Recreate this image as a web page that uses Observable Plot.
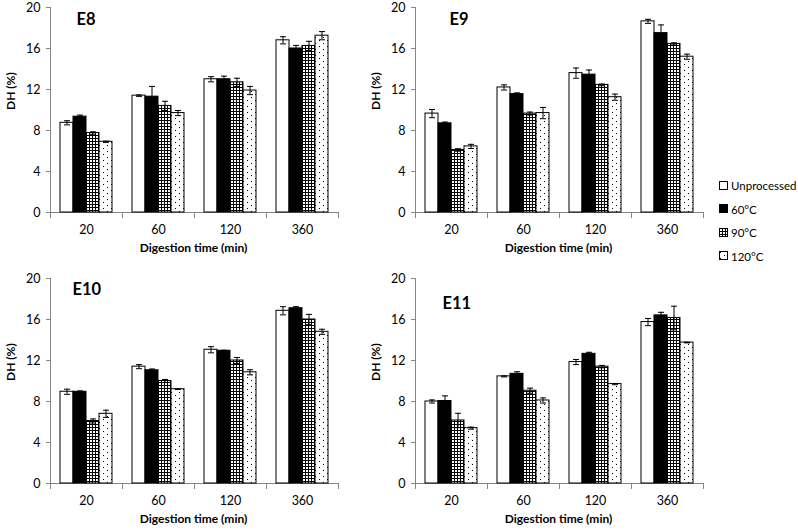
<!DOCTYPE html>
<html><head><meta charset="utf-8">
<script src="https://cdn.jsdelivr.net/npm/d3@7"></script>
<script src="https://cdn.jsdelivr.net/npm/@observablehq/plot@0.6"></script>
<style>
html,body{margin:0;padding:0;background:#fff;}
#wrap{position:relative;width:798px;height:530px;overflow:hidden;font-family:Lato,"Open Sans",sans-serif;color:#000;}
.panel{position:absolute;}
.xtitle{position:absolute;font-weight:bold;font-size:12px;line-height:14px;text-align:center;white-space:nowrap;}
.legend{position:absolute;left:719px;top:174px;font-size:11.5px;}
.legend .item{display:flex;align-items:center;height:23.5px;white-space:nowrap;}
.legend svg{margin-right:2px;}
</style></head><body>
<div id="wrap">
<svg width="0" height="0" style="position:absolute">
<defs>
<pattern id="pGrid" width="3" height="3" patternUnits="userSpaceOnUse">
<rect width="3" height="3" fill="#fff"/>
<path d="M0,0.5H3M0.5,0V3" stroke="#000" stroke-width="1" shape-rendering="crispEdges"/>
</pattern>
<pattern id="pDot" width="8" height="6" patternUnits="userSpaceOnUse">
<rect width="8" height="6" fill="#fff"/>
<rect x="1" y="1" width="1" height="1" fill="#000"/>
<rect x="5" y="4" width="1" height="1" fill="#000"/>
</pattern>
</defs></svg>
</div>
<script>
// ---- data ----
const times = ["20", "60", "120", "360"];
const series = ["Unprocessed", "60°C", "90°C", "120°C"];
const yTicks = [0, 4, 8, 12, 16, 20];
const panelNames = ["E8", "E9", "E10", "E11"];
const xTitle = "Digestion time (min)";
const yTitle = "DH (%)";
// rows = digestion time, columns = series
const e8Mean = [[8.75, 9.35, 7.75, 6.9], [11.4, 11.3, 10.4, 9.7], [13.0, 13.0, 12.7, 11.9], [16.8, 16.0, 16.25, 17.25]];
const e8Err  = [[0.2, 0.15, 0.12, 0.06], [0.07, 1.0, 0.45, 0.25], [0.25, 0.3, 0.4, 0.4], [0.35, 0.3, 0.45, 0.4]];
const e9Mean = [[9.65, 8.7, 6.1, 6.45], [12.2, 11.55, 9.65, 9.7], [13.6, 13.45, 12.45, 11.25], [18.65, 17.5, 16.45, 15.2]];
const e9Err  = [[0.4, 0.12, 0.12, 0.2], [0.25, 0.12, 0.15, 0.55], [0.5, 0.45, 0.08, 0.3], [0.2, 0.8, 0.1, 0.25]];
const e10Mean = [[8.95, 8.95, 6.1, 6.8], [11.4, 11.05, 10.0, 9.2], [13.05, 12.95, 12.0, 10.85], [16.85, 17.1, 16.0, 14.8]];
const e10Err  = [[0.25, 0.08, 0.2, 0.35], [0.2, 0.12, 0.15, 0.03], [0.3, 0.05, 0.3, 0.25], [0.4, 0.15, 0.5, 0.25]];
const e11Mean = [[8.0, 8.05, 6.15, 5.4], [10.45, 10.7, 9.05, 8.1], [11.85, 12.65, 11.4, 9.7], [15.75, 16.4, 16.15, 13.75]];
const e11Err  = [[0.15, 0.5, 0.7, 0.1], [0.05, 0.2, 0.25, 0.25], [0.25, 0.15, 0.12, 0.06], [0.35, 0.3, 1.15, 0.03]];

// ---- styles ----
const fills = ["#ffffff", "#000000", "url(#pGrid)", "url(#pDot)"];
const axisGray = "#868686";
const W = 365, H = 258, ML = 48, MR = 26, MT = 7, MB = 46;
const cap = {draw(ctx, size) { const r = Math.sqrt(size / Math.PI); ctx.moveTo(-r, 0); ctx.lineTo(r, 0); }};

const wrap = document.getElementById("wrap");

function panel(name, means, errs, left, top, tdx, tdy) {
  const rows = [];
  times.forEach((t, i) => series.forEach((s, j) => rows.push({time: t, series: s, k: j, v: means[i][j], e: errs[i][j]})));
  const chart = Plot.plot({
    width: W, height: H, marginLeft: ML, marginRight: MR, marginTop: MT, marginBottom: MB,
    style: {fontFamily: "Lato, 'Open Sans', sans-serif", fontSize: "12.5px", color: "#000", background: "transparent", overflow: "visible"},
    fx: {domain: times, padding: 0, label: null},
    x: {domain: series, paddingInner: 0, paddingOuter: 0.7, axis: null},
    y: {domain: [0, 20], label: null},
    color: {type: "identity"},
    facet: {marginTop: 0, marginBottom: 0, marginLeft: 0, marginRight: 0},
    marks: [
      Plot.frame({anchor: "left", facetAnchor: "left", stroke: axisGray}),
      Plot.ruleY([0], {stroke: axisGray}),
      Plot.frame({anchor: "left", insetTop: H - MT - MB, insetBottom: -5, stroke: axisGray}),
      Plot.frame({anchor: "right", insetTop: H - MT - MB, insetBottom: -5, stroke: axisGray}),
      Plot.barY(rows, {fx: "time", x: "series", y: "v", fill: d => fills[d.k], stroke: "#000", strokeWidth: 1}),
      Plot.ruleX(rows, {fx: "time", x: "series", y1: d => d.v - d.e, y2: d => d.v + d.e, stroke: "#000", strokeWidth: 1}),
      Plot.dot(rows, {fx: "time", x: "series", y: d => d.v + d.e, symbol: cap, r: 3, stroke: "#000", fill: "none", strokeWidth: 1}),
      Plot.dot(rows, {fx: "time", x: "series", y: d => d.v - d.e, symbol: cap, r: 3, stroke: "#000", fill: "none", strokeWidth: 1}),
      Plot.axisY({ticks: yTicks, tickSize: 4, tickPadding: 6, stroke: axisGray, fill: "#000", label: null}),
      Plot.axisFx({anchor: "bottom", tickSize: 0, tickPadding: 13, fill: "#000", label: null}),
      Plot.text([name], {fx: () => times[0], frameAnchor: "top-left", dx: tdx, dy: tdy, textAnchor: "start", fontWeight: "bold", fontSize: 16.5, fill: "#000"}),
      Plot.text([yTitle], {fx: () => times[0], frameAnchor: "left", rotate: -90, dx: -39, fontWeight: "bold", fontSize: 12, fill: "#000"})
    ]
  });
  chart.classList.add("panel");
  chart.style.left = left + "px";
  chart.style.top = top + "px";
  chart.style.position = "absolute";
  wrap.appendChild(chart);
  const xt = document.createElement("div");
  xt.className = "xtitle";
  xt.textContent = xTitle;
  xt.style.left = (left + ML) + "px";
  xt.style.width = (W - ML - MR) + "px";
  xt.style.top = (top + 240.5) + "px";
  wrap.appendChild(xt);
}

panel(panelNames[0], e8Mean, e8Err, 0, 0, 26, 5.7);
panel(panelNames[1], e9Mean, e9Err, 365, 0, 34, 5.5);
panel(panelNames[2], e10Mean, e10Err, 0, 271, 22, 5.2);
panel(panelNames[3], e11Mean, e11Err, 365, 271, 27, 18.5);

// legend
const leg = document.createElement("div");
leg.className = "legend";
series.forEach((s, i) => {
  const it = document.createElement("div");
  it.className = "item";
  it.innerHTML = `<svg width="10" height="10"><rect x="0.5" y="0.5" width="8" height="8" fill="${fills[i]}" stroke="#000"/></svg><span>${s}</span>`;
  leg.appendChild(it);
});
wrap.appendChild(leg);
</script>
</body></html>
